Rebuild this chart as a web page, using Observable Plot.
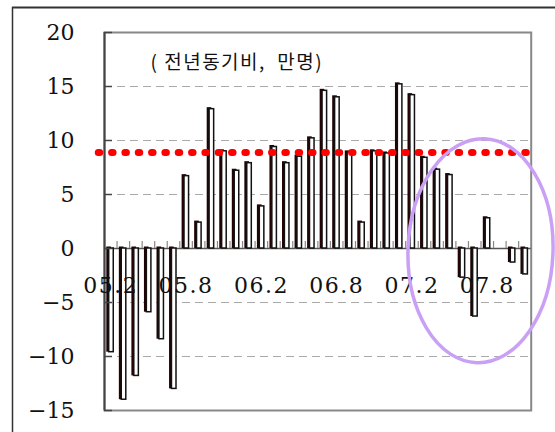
<!DOCTYPE html>
<html><head><meta charset="utf-8">
<script src="https://cdn.jsdelivr.net/npm/d3@7"></script>
<script src="https://cdn.jsdelivr.net/npm/@observablehq/plot@0.6"></script>
<style>
html,body{margin:0;padding:0;background:#fff;}
svg{display:block}
#chart svg text{font-family:"DejaVu Serif",serif !important;}
#chart svg text.kr{font-family:"Noto Sans CJK KR",sans-serif !important;}
</style>
</head><body><div id="chart"></div>
<script>
// Months (categories)
const months = ["05.2","05.3","05.4","05.5","05.6","05.7","05.8","05.9","05.10","05.11","05.12",
  "06.1","06.2","06.3","06.4","06.5","06.6","06.7","06.8","06.9","06.10","06.11","06.12",
  "07.1","07.2","07.3","07.4","07.5","07.6","07.7","07.8","07.9","07.10","07.11"];
// Year-on-year change (10,000 persons)
const values = [-9.6,-14.0,-11.8,-5.9,-8.4,-13.0,
  6.7,2.4,12.9,9.0,7.2,7.9,
  3.9,9.4,7.9,8.5,10.2,14.6,
  14.0,8.9,2.4,9.0,8.8,15.2,
  14.2,8.4,7.3,6.8,-2.7,-6.3,
  2.8,0,-1.3,-2.4];
const tickLabels = ["05.2","05.8","06.2","06.8","07.2","07.8"];
const yTicks = [-15,-10,-5,0,5,10,15,20];
const gridValues = [15,10,5,-5,-10];
const average = [8.9];
const title = "(\u00a0전년동기비,\u00a0\u00a0만명)";
const highlight = {i: 30, v: -0.25};

const serif = "DejaVu Serif";
const bars = months.map((m, i) => ({i, m, v: values[i]})).filter(d => d.v !== 0);
const labels = tickLabels.map(l => ({i: months.indexOf(l), label: l}));
const boundaries = d3.range(1, months.length);

const chart = Plot.plot({
  width: 555,
  height: 432,
  marginLeft: 104,
  marginRight: 24.3,
  marginTop: 32,
  marginBottom: 22,
  style: {fontFamily: serif, fontSize: "24px", background: "white", overflow: "visible"},
  x: {domain: [0, months.length], axis: null},
  y: {domain: [-15, 20], axis: null},
  marks: [
    Plot.ruleY(gridValues, {stroke: "#aaa", strokeWidth: 1, strokeDasharray: "8,5"}),
    Plot.frame({stroke: "#888", strokeWidth: 2}),
    Plot.ruleY([0], {stroke: "#555", strokeWidth: 1.5}),
    Plot.ruleX(boundaries, {y1: 0, y2: 0, insetBottom: 7, stroke: "#888", strokeWidth: 1.2}),
    Plot.rect(bars, {x1: d => d.i, x2: d => d.i + 1, y1: 0, y2: "v", fill: "#220303", insetLeft: 2.3, insetRight: 5.6, insetTop: -1.5}),
    Plot.rect(bars, {x1: d => d.i, x2: d => d.i + 1, y1: 0, y2: "v", fill: "white", stroke: "#111", strokeWidth: 1.5, insetLeft: 4.7, insetRight: 3.3}),
    Plot.ruleY(average, {stroke: "#ff0000", strokeWidth: 7, strokeDasharray: "1.5,11.83", strokeLinecap: "round", insetLeft: -5.75, insetRight: 3.7}),
    Plot.ruleX([0], {stroke: "#444", strokeWidth: 2}),
    Plot.ruleY(yTicks, {x1: 0, x2: 0, insetRight: -8, stroke: "#444", strokeWidth: 1.5}),
    Plot.axisY(yTicks, {tickSize: 0, tickPadding: 30, fontSize: 22, fontFamily: serif, fill: "#111", label: null}),
    Plot.text(labels, {x: d => d.i + 0.5, y: 0, text: "label", dy: 37, fontSize: 22, fontFamily: serif, fill: "#111"}),
    Plot.text([title], {frameAnchor: "top-left", dx: 46, dy: 36, lineAnchor: "bottom", textAnchor: "start", fontSize: 19, fill: "#111", fontFamily: "Noto Sans CJK KR"})
  ]
});

const svg = d3.select(chart);
svg.selectAll("text").filter(function() { return tickLabels.includes(this.textContent); }).attr("letter-spacing", "1.5px");
svg.selectAll("text").filter(function() { return this.textContent === title; }).attr("letter-spacing", "1.5px").classed("kr", true);

const xs = chart.scale("x"), ys = chart.scale("y");
const sx = xs.apply ? (v => xs.apply(v)) : d3.scaleLinear(xs.domain, xs.range);
const sy = ys.apply ? (v => ys.apply(v)) : d3.scaleLinear(ys.domain, ys.range);
const cx = sx(highlight.i), cy = sy(highlight.v);
svg.append("ellipse")
  .attr("cx", cx).attr("cy", cy).attr("rx", 72.5).attr("ry", 112)
  .attr("transform", `rotate(2 ${cx} ${cy})`)
  .attr("fill", "none").attr("stroke", "#c9a0f5").attr("stroke-width", 3.5);
// outer border
svg.append("line").attr("x1", 12).attr("x2", 555).attr("y1", 7.5).attr("y2", 7.5).attr("stroke", "#333").attr("stroke-width", 2);
svg.append("line").attr("x1", 12.5).attr("x2", 12.5).attr("y1", 7).attr("y2", 432).attr("stroke", "#333").attr("stroke-width", 1.5);

document.getElementById("chart").appendChild(chart);
</script>
</body></html>
